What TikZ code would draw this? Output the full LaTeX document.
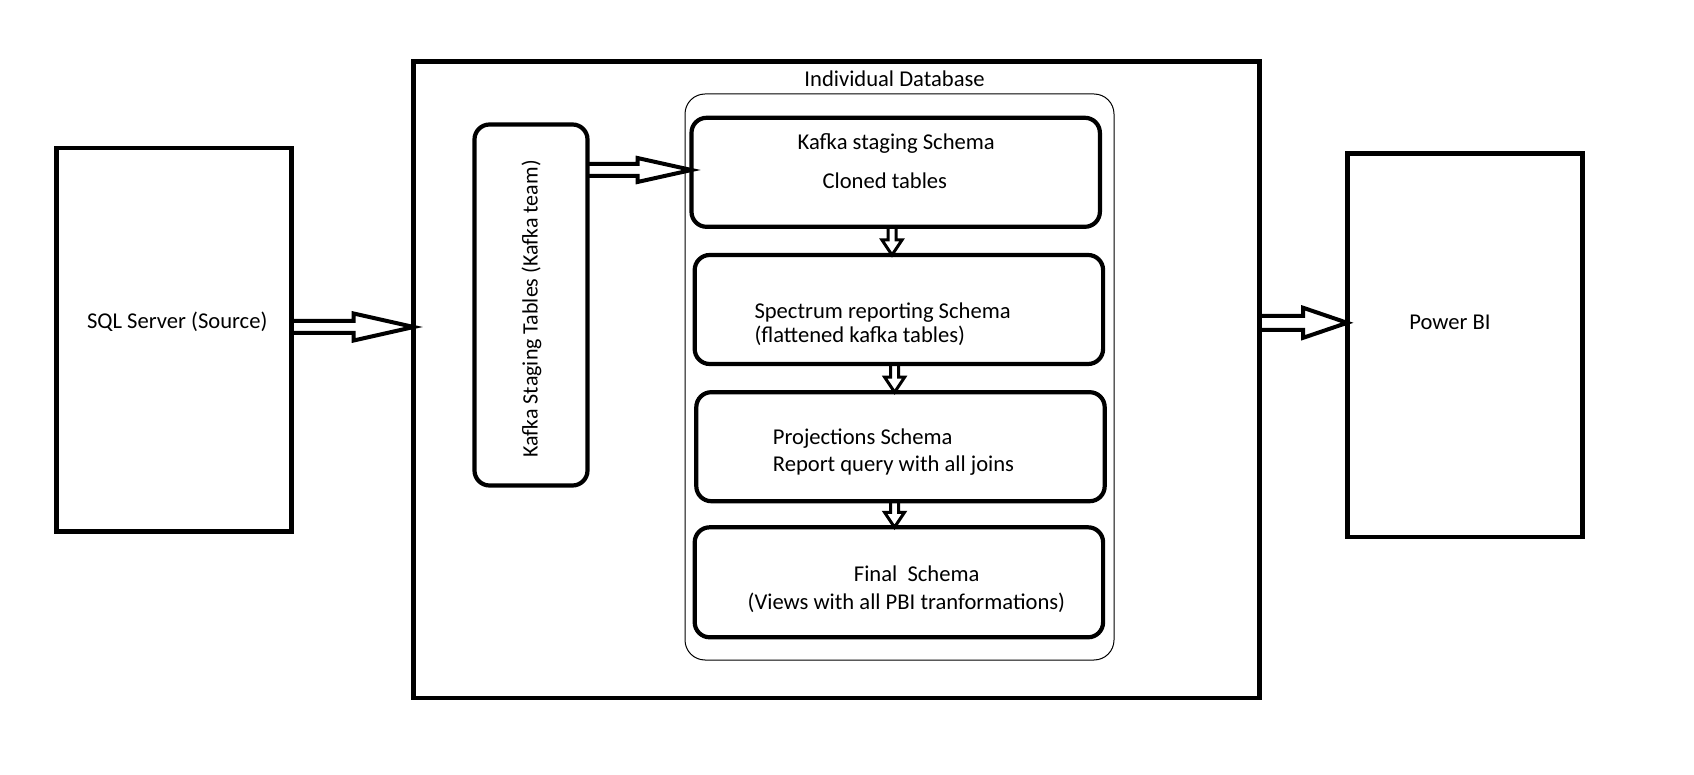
\documentclass[tikz,border=0pt]{standalone}
\usepackage{fontspec}
\setmainfont{Carlito}
\usetikzlibrary{calc}
\newcommand\colorFrame{black}
\newcommand\frameWidth{2.4pt}
\newcommand\boxWidth{2.1pt}
\newcommand\arrowWidth{2pt}
\newcommand\drawFatArrowRight[5]{
	\draw[color=\colorFrame, line width=\arrowWidth, line join=miter]
		let \p1=(#1), \p2=(#2) in
		(\x1,\y1+#3) to (\x2-#5,\y1+#3) to
		(\x2-#5,\y1+#4) to (\x2,\y1) to
		(\x2-#5,\y1-#4) to (\x2-#5,\y1-#3) to
		(\x1,\y1-#3);
}
\newcommand\drawFatArrowDown[5]{
	\draw[color=\colorFrame, line width=1.5pt, line join=miter]
		let \p1=(#1), \p2=(#2) in
		(\x1-#3,\y1) to (\x1-#3,\y2+#5) to
		(\x1-#4,\y2+#5) to (\x1,\y2) to
		(\x1+#4,\y2+#5) to (\x1+#3,\y2+#5) to
		(\x1+#3,\y1);
}
\tikzset{
	outerbox/.style={draw=\colorFrame, line width=\frameWidth, outer sep=0pt, inner sep=0pt},
	schemabox/.style={draw=\colorFrame, line width=\boxWidth, rounded corners=7.5pt,
		minimum width=204.2pt, minimum height=54.5pt, outer sep=0pt, inner sep=0pt},
	txt/.style={font=\fontsize{11.3}{13}\selectfont, inner sep=0pt, text height=10.5pt, text depth=2.5pt},
}
\begin{document}
\begin{tikzpicture}[x=0.5pt, y=-0.5pt]
	\fill[white] (0,0) rectangle (1694,775);
	\useasboundingbox (0,0) rectangle (1694,775);

	\node[outerbox, minimum width=117.8pt, minimum height=191.8pt] (sql) at (174,339.8) {};
	\node[outerbox, minimum width=423pt, minimum height=318.2pt] (db) at (836.7,379.8) {};
	\node[draw=\colorFrame, line width=0.5pt, rounded corners=10pt, minimum width=214.5pt,
		minimum height=283pt, outer sep=0pt] (inner) at (899.5,377) {};
	\node[schemabox, minimum width=56.5pt, minimum height=180.5pt] (staging) at (531,305) {};
	\node[schemabox] (kafka) at (895.7,172.3) {};
	\node[schemabox] (spectrum) at (898.9,309.5) {};
	\node[schemabox] (projections) at (900.5,446.7) {};
	\node[schemabox, minimum height=55pt] (final) at (898.9,582.3) {};
	\node[outerbox, minimum width=117.8pt, minimum height=191.8pt] (powerbi) at (1465,345.2) {};

	\node[txt] (sqlText) at (177.2,320.9) {SQL Server (Source)};
	\node[txt] (dbText) at (894.6,78.9) {Individual Database};
	\node[txt, rotate=90, font=\fontsize{11}{13}\selectfont] (stagingText) at (529.5,309)
		{Kafka Staging Tables (Kafka team)};
	\node[txt] (kafkaTextA) at (896.2,141.5) {Kafka staging Schema};
	\node[txt] (kafkaTextB) at (884.8,180.4) {Cloned tables};
	\node[txt, anchor=west] (spectrumTextA) at (754.1,310.1) {Spectrum reporting Schema};
	\node[txt, anchor=west] (spectrumTextB) at (754.1,334.9) {(flattened kafka tables)};
	\node[txt, anchor=west] (projectionsTextA) at (772.5,436.5) {Projections Schema};
	\node[txt, anchor=west] (projectionsTextB) at (772.5,463.5) {Report query with all joins};
	\node[txt] (finalTextA) at (916.7,573.7) {Final\ \ Schema};
	\node[txt] (finalTextB) at (906.4,601.8) {(Views with all PBI tranformations)};
	\node[txt] (powerbiText) at (1449.9,322) {Power BI};

	\drawFatArrowRight{$(sql.east)+(0,-12.8)$}{db.west}{3pt}{6.75pt}{30pt}
	\drawFatArrowRight{$(db.east)+(0,-57)$}{powerbi.west}{3.5pt}{7.5pt}{22pt}
	\drawFatArrowRight{$(staging.east)+(0,-135)$}{kafka.west}{3pt}{6pt}{27pt}
	\drawFatArrowDown{$(kafka.south)+(-3.7,0)$}{spectrum.north}{2pt}{5pt}{7.5pt}
	\drawFatArrowDown{$(spectrum.south)+(-4.3,0)$}{projections.north}{2pt}{5pt}{7.5pt}
	\drawFatArrowDown{$(projections.south)+(-6,0)$}{final.north}{2pt}{5pt}{7.5pt}
\end{tikzpicture}
\end{document}
